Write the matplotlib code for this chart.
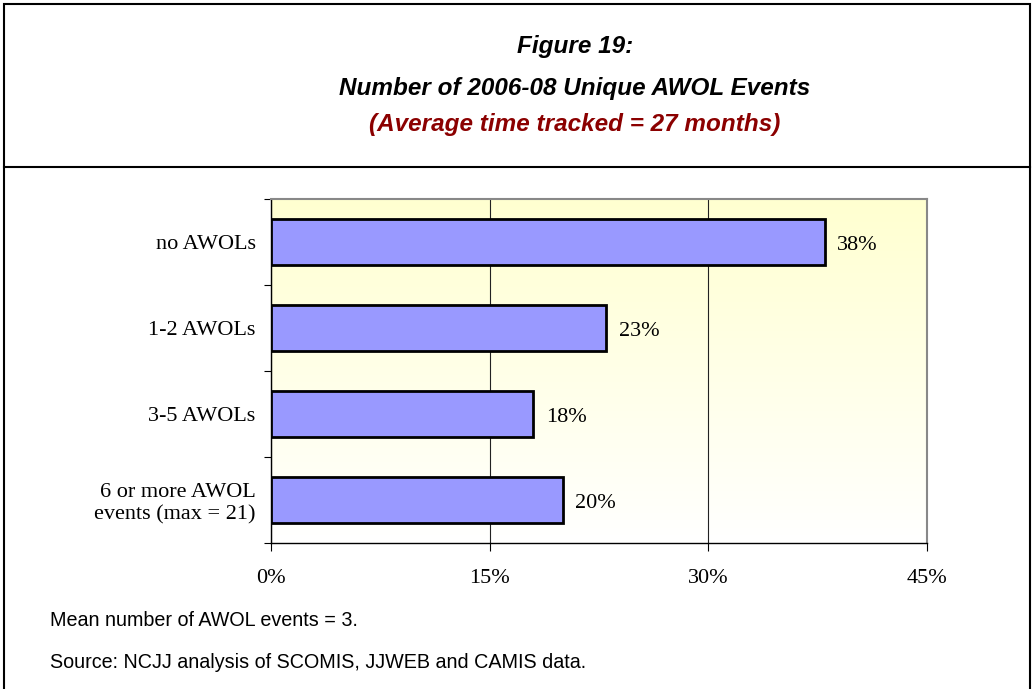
import numpy as np
import matplotlib
matplotlib.use("Agg")
import matplotlib.pyplot as plt
from matplotlib.patches import Rectangle
from matplotlib.colors import LinearSegmentedColormap

categories = ["no AWOLs", "1-2 AWOLs", "3-5 AWOLs", "6 or more AWOL\nevents (max = 21)"]
values = [38, 23, 18, 20]
xticks = [0, 15, 30, 45]

serif = ["Liberation Serif", "DejaVu Serif"]
sans = ["Liberation Sans Narrow", "Liberation Sans", "DejaVu Sans"]

fig = plt.figure(figsize=(10.34, 6.89), dpi=100)

# outer frame and divider line
fig.add_artist(Rectangle((4 / 1034, -0.01), 1026 / 1034, 1 - 4 / 689 + 0.01,
                         transform=fig.transFigure, fill=False, lw=1.5, ec="black"))
fig.add_artist(plt.Line2D([4 / 1034, 1030 / 1034], [1 - 167 / 689] * 2,
                          transform=fig.transFigure, lw=1.5, color="black"))

title_kw = dict(ha="center", va="center", fontsize=17.5, fontweight="bold",
                fontstyle="italic", family=sans)
fig.text(575 / 1034, 1 - 47 / 689, "Figure 19:", **title_kw)
fig.text(575 / 1034, 1 - 88 / 689, "Number of 2006-08 Unique AWOL Events", **title_kw)
fig.text(575 / 1034, 1 - 124 / 689, "(Average time tracked = 27 months)", color="#8B0000", **title_kw)

ax = fig.add_axes([271 / 1034, 1 - 543 / 689, 656 / 1034, 344 / 689])

# yellow-to-white gradient background
cmap = LinearSegmentedColormap.from_list("bg", ["#FFFFFF", "#FFFFD0"])
grad = np.linspace(0, 1, 256).reshape(-1, 1)
ax.imshow(grad, cmap=cmap, aspect="auto", extent=[0, 45, 4, 0], origin="lower", zorder=0)

ypos = np.arange(len(categories)) + 0.5
ax.barh(ypos, values, height=0.53, color="#9999FF", edgecolor="black", linewidth=2, zorder=3)
for y, v in zip(ypos, values):
    ax.text(v + 0.85, y + 0.04, f"{v}%", va="center", ha="left", fontsize=16, family=serif)

ax.set_xlim(0, 45)
ax.set_ylim(4, 0)
ax.set_xticks(xticks)
ax.set_xticklabels([f"{t}%" for t in xticks], family=serif, fontsize=16)
ax.set_yticks([0, 1, 2, 3, 4])
ax.set_yticklabels([])
ax.set_yticks(ypos, minor=True)
ax.set_yticklabels(categories, minor=True, family=serif, fontsize=16, ha="right")
ax.tick_params(axis="y", which="minor", length=0, pad=11)
ax.tick_params(axis="y", which="major", direction="out", length=5)
ax.tick_params(axis="x", direction="out", length=6, pad=13)
ax.xaxis.grid(True, color="#222222", lw=0.8, zorder=1)
ax.set_axisbelow(True)
for s in ["top", "right"]:
    ax.spines[s].set_color("#888888")
    ax.spines[s].set_linewidth(1.5)
for s in ["left", "bottom"]:
    ax.spines[s].set_color("black")
    ax.spines[s].set_linewidth(1)

fig.text(50 / 1034, 1 - 620 / 689, "Mean number of AWOL events = 3.", ha="left", va="center",
         fontsize=14.2, family=sans)
fig.text(50 / 1034, 1 - 662 / 689, "Source: NCJJ analysis of SCOMIS, JJWEB and CAMIS data.", ha="left",
         va="center", fontsize=14.2, family=sans)

fig.savefig("out.png", dpi=100)
